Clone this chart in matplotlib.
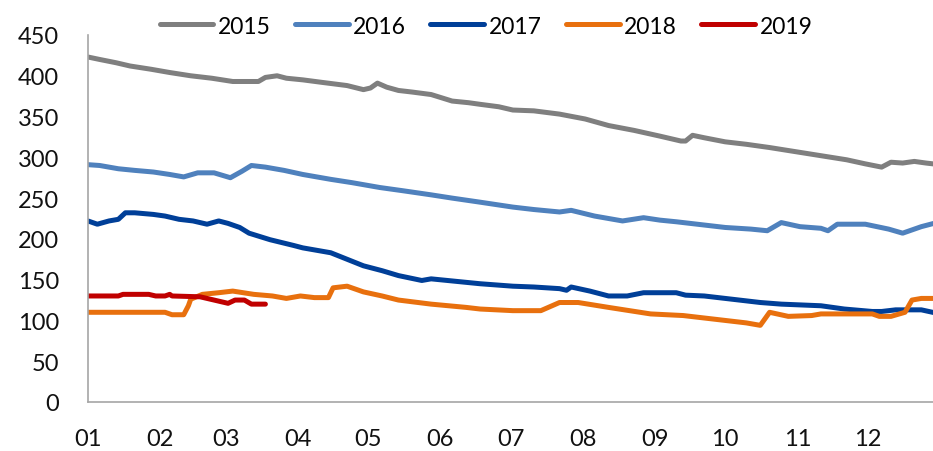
import matplotlib.pyplot as plt

# day-of-year offsets (0 = Jan 1) and daily price readings per year
days_2015 = [0, 5, 12, 18, 27, 35, 44, 53, 62, 73, 76, 81, 85, 92, 100, 111, 118, 121,
             124, 128, 133, 139, 147, 156, 163, 168, 176, 182, 191, 202, 213, 223, 234,
             245, 254, 256, 259, 264, 273, 282, 292, 303, 314, 325, 333, 340, 344, 349,
             354, 359, 365]
vals_2015 = [423, 420, 416, 412, 408, 404, 400, 397, 393, 393, 398, 400, 397, 395, 392,
             388, 383, 385, 391, 386, 382, 380, 377, 369, 367, 365, 362, 358, 357, 353,
             347, 339, 333, 326, 320, 320, 327, 324, 319, 316, 312, 307, 302, 297, 292,
             288, 294, 293, 295, 293, 291]

days_2016 = [0, 5, 13, 20, 28, 35, 41, 47, 54, 61, 66, 70, 76, 84, 92, 104, 113, 125,
             135, 147, 156, 168, 182, 191, 202, 207, 217, 229, 238, 245, 252, 264, 273,
             284, 291, 297, 305, 314, 317, 321, 333, 338, 343, 349, 357, 365]
vals_2016 = [291, 290, 286, 284, 282, 279, 276, 281, 281, 275, 283, 290, 288, 284, 279,
             273, 269, 263, 259, 254, 250, 245, 239, 236, 233, 235, 228, 222, 226, 223,
             221, 217, 214, 212, 210, 220, 215, 213, 210, 218, 218, 215, 212, 207, 215,
             221]

days_2017 = [0, 4, 9, 13, 16, 20, 28, 33, 39, 45, 51, 56, 60, 65, 69, 78, 88, 92, 104,
             111, 118, 126, 133, 143, 147, 154, 168, 182, 191, 202, 205, 207, 215, 223,
             231, 238, 252, 256, 264, 276, 288, 297, 314, 324, 336, 340, 346, 357, 365]
vals_2017 = [222, 218, 222, 224, 232, 232, 230, 228, 224, 222, 218, 222, 219, 214, 207,
             199, 192, 189, 183, 175, 167, 161, 155, 149, 151, 149, 145, 142, 141, 139,
             137, 141, 136, 130, 130, 134, 134, 131, 130, 126, 122, 120, 118, 114, 111,
             111, 113, 113, 108]

days_2018 = [0, 33, 36, 41, 43, 44, 49, 56, 62, 71, 79, 85, 91, 97, 103, 105, 111, 118,
             126, 133, 147, 162, 168, 182, 194, 202, 210, 223, 232, 241, 255, 264, 273,
             282, 288, 292, 300, 310, 314, 336, 339, 344, 350, 353, 357, 365]
vals_2018 = [110, 110, 107, 107, 118, 126, 132, 134, 136, 132, 130, 127, 130, 128, 128,
             140, 142, 135, 130, 125, 120, 116, 114, 112, 112, 122, 122, 116, 112, 108,
             106, 103, 100, 97, 94, 110, 105, 106, 108, 108, 105, 105, 110, 125, 127, 127]

days_2019 = [0, 13, 15, 26, 29, 33, 35, 36, 48, 54, 60, 63, 67, 70, 76]
vals_2019 = [130, 130, 132, 132, 130, 130, 132, 130, 129, 125, 121, 125, 125, 120, 120]

month_starts = [0, 31, 59, 90, 120, 151, 181, 212, 243, 273, 304, 334]
month_labels = ["01", "02", "03", "04", "05", "06", "07", "08", "09", "10", "11", "12"]

series = [
    ("2015", days_2015, vals_2015, "#7f7f7f"),
    ("2016", days_2016, vals_2016, "#4f81bd"),
    ("2017", days_2017, vals_2017, "#003f98"),
    ("2018", days_2018, vals_2018, "#e8700e"),
    ("2019", days_2019, vals_2019, "#c00000"),
]

plt.rcParams["font.family"] = ["Lato", "DejaVu Sans"]

W, H = 933, 452
fig = plt.figure(figsize=(W / 100, H / 100), dpi=100)
ax = fig.add_axes([88 / W, (H - 403) / H, 845 / W, 367 / H])

for label, d, v, c in series:
    ax.plot(d, v, color=c, linewidth=3.6, label=label,
            solid_capstyle="round", solid_joinstyle="round")

ax.set_xlim(0, 362)
ax.set_ylim(0, 450)
ax.set_yticks(range(0, 451, 50))
ax.set_xticks(month_starts)
ax.set_xticklabels(month_labels)

ax.tick_params(axis="y", length=0, pad=21, labelsize=17, labelcolor="#111111")
ax.tick_params(axis="x", length=0, pad=19, labelsize=17, labelcolor="#111111")

for side in ["top", "right"]:
    ax.spines[side].set_visible(False)
for side in ["left", "bottom"]:
    ax.spines[side].set_color("#a6a6a6")
    ax.spines[side].set_linewidth(1.2)

fig.legend(loc="center", bbox_to_anchor=(486 / W, 1 - 27 / H), ncol=5,
           frameon=False, fontsize=16.5, handlelength=2.35, handletextpad=0.2,
           columnspacing=1.05, borderaxespad=0)

fig.savefig("out.png", dpi=100)
